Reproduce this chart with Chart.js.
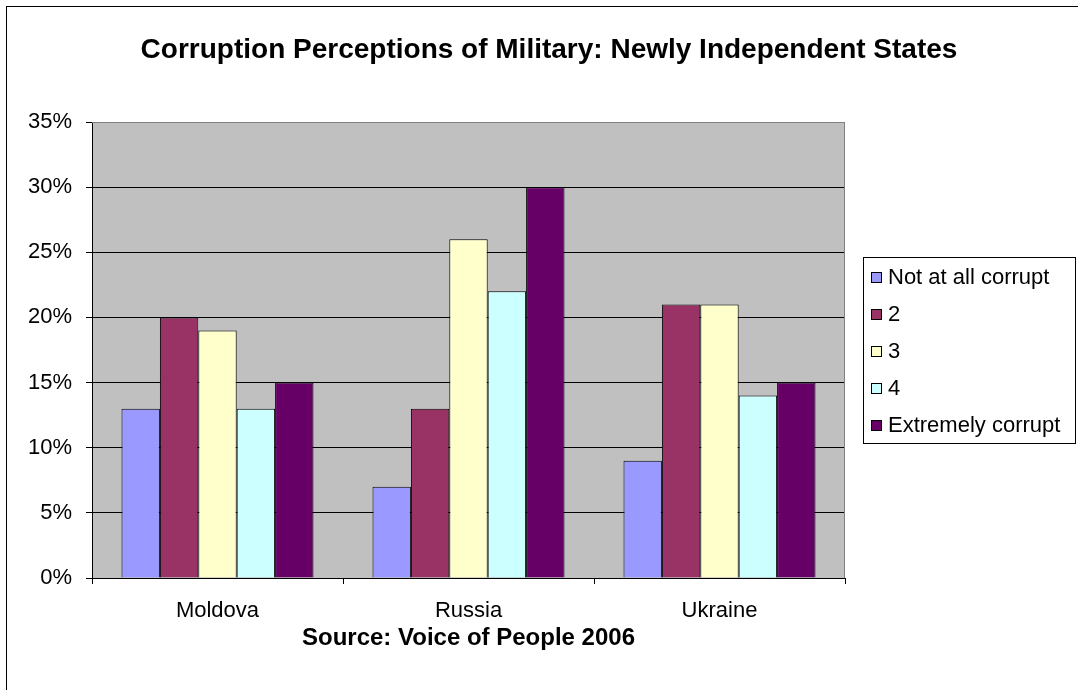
<!DOCTYPE html>
<html>
<head>
<meta charset="utf-8">
<script src="https://cdn.jsdelivr.net/npm/chart.js@4"></script>
<style>
  html, body { margin: 0; padding: 0; background: #fff; }
  #wrap { position: relative; width: 1078px; height: 690px; overflow: hidden; }
  #frame { position: absolute; left: 6px; top: 6px; width: 1200px; height: 800px;
           border-left: 1px solid #000; border-top: 1px solid #000; }
  #chart { position: absolute; left: 0; top: 0; }
</style>
</head>
<body>
<div id="wrap">
  <div id="frame"></div>
  <canvas id="chart" width="1078" height="690"></canvas>
</div>
<script>
// ---- data ----
const chartTitle = 'Corruption Perceptions of Military: Newly Independent States';
const sourceNote = 'Source: Voice of People 2006';
const countries = ['Moldova', 'Russia', 'Ukraine'];
const levels = ['Not at all corrupt', '2', '3', '4', 'Extremely corrupt'];
const notAtAll = [13, 7, 9];
const level2 = [20, 13, 21];
const level3 = [19, 26, 21];
const level4 = [13, 22, 14];
const extremely = [15, 30, 15];
const yMax = 35;
const yStep = 5;

const seriesValues = [notAtAll, level2, level3, level4, extremely];
const colors = ['#9999FF', '#993366', '#FFFFCC', '#CCFFFF', '#660066'];
const FONT = "'Liberation Sans', Arial, sans-serif";

// gray plot area with gray frame (Excel style)
const plotArea = {
    id: 'plotArea',
    beforeDraw(chart) {
        const { ctx, chartArea: a } = chart;
        ctx.save();
        ctx.fillStyle = '#C0C0C0';
        ctx.fillRect(a.left, a.top, a.right - a.left, a.bottom - a.top);
        ctx.restore();
    },
    beforeDatasetsDraw(chart) {
        const { ctx, chartArea: a } = chart;
        ctx.save();
        ctx.strokeStyle = '#808080';
        ctx.lineWidth = 1;
        ctx.beginPath();
        ctx.moveTo(a.left, a.top + 0.5);
        ctx.lineTo(a.right - 0.5, a.top + 0.5);
        ctx.lineTo(a.right - 0.5, a.bottom);
        ctx.stroke();
        ctx.restore();
    }
};

// title centred on the (wider) chart frame, not the canvas
const frameTitle = {
    id: 'frameTitle',
    afterDraw(chart) {
        const { ctx } = chart;
        ctx.save();
        ctx.font = 'bold 28px ' + FONT;
        ctx.fillStyle = '#000';
        ctx.textAlign = 'center';
        ctx.textBaseline = 'middle';
        ctx.fillText(chartTitle, 549, 50);
        ctx.restore();
    }
};

// boxed legend on the right
const boxLegend = {
    id: 'boxLegend',
    afterDraw(chart) {
        const { ctx } = chart;
        const x = 863, y = 257, w = 212, h = 186;
        ctx.save();
        ctx.fillStyle = '#fff';
        ctx.fillRect(x, y, w, h);
        ctx.strokeStyle = '#000';
        ctx.lineWidth = 1;
        ctx.strokeRect(x + 0.5, y + 0.5, w, h);
        ctx.font = '22px ' + FONT;
        ctx.textBaseline = 'middle';
        chart.data.datasets.forEach((ds, i) => {
            const cy = 277 + i * 37;
            ctx.fillStyle = ds.backgroundColor;
            ctx.fillRect(871, cy - 5, 11, 11);
            ctx.strokeStyle = '#000';
            ctx.strokeRect(871.5, cy - 4.5, 10, 10);
            ctx.fillStyle = '#000';
            ctx.fillText(ds.label, 888, cy + 1);
        });
        ctx.restore();
    }
};

new Chart(document.getElementById('chart'), {
    type: 'bar',
    data: {
        labels: countries,
        datasets: levels.map((lv, i) => ({
            label: lv,
            data: seriesValues[i],
            backgroundColor: colors[i],
            borderColor: '#000',
            borderWidth: 1,
            categoryPercentage: 0.765,
            barPercentage: 1,
        }))
    },
    options: {
        responsive: false,
        animation: false,
        devicePixelRatio: 1,
        layout: { padding: { left: 0, right: 233, top: 122, bottom: 37.6 } },
        plugins: {
            legend: { display: false },
            tooltip: { enabled: false },
            title: { display: false }
        },
        scales: {
            x: {
                grid: { display: true, drawOnChartArea: false, offset: true, color: '#000', tickLength: 6 },
                border: { color: '#000', width: 1 },
                ticks: { color: '#000', font: { family: FONT, size: 22 }, padding: 14 },
                title: {
                    display: true,
                    text: sourceNote,
                    color: '#000',
                    font: { family: FONT, size: 24, weight: 'bold' },
                    padding: { top: 0, bottom: 0 }
                },
                afterFit(scale) { scale.height = 74.4; }
            },
            y: {
                min: 0,
                max: yMax,
                ticks: {
                    stepSize: yStep,
                    color: '#000',
                    font: { family: FONT, size: 22 },
                    padding: 14,
                    callback: v => v + '%'
                },
                grid: {
                    color: ctx => (ctx.tick && ctx.tick.value === yMax) ? '#808080' : '#000',
                    tickColor: '#000',
                    tickLength: 6,
                    lineWidth: 1
                },
                border: { color: '#000', width: 1 },
                afterFit(scale) { scale.width = 92; }
            }
        }
    },
    plugins: [plotArea, frameTitle, boxLegend]
});
</script>
</body>
</html>
